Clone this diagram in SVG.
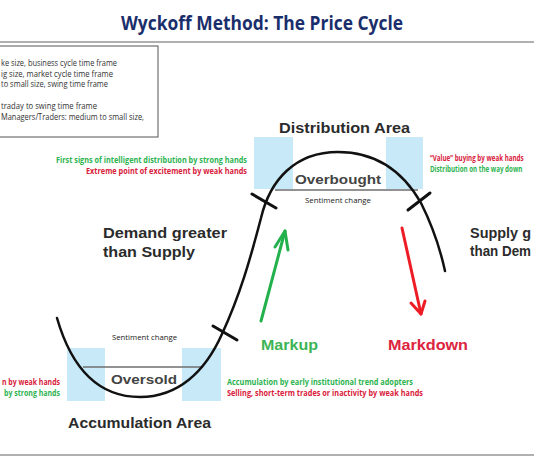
<svg xmlns="http://www.w3.org/2000/svg" width="534" height="462" viewBox="0 0 534 462">
<defs>
<style>
.title{font-family:"Open Sans","Liberation Sans",sans-serif;font-weight:bold;font-size:19px;fill:#1a2e6c}
.leg{font-family:"Open Sans","Liberation Sans",sans-serif;font-size:8.5px;fill:#333}
.big{font-family:"Liberation Sans",Arial,sans-serif;font-weight:bold;font-size:14px;fill:#2b2b2b}
.mid{font-family:"Liberation Sans",Arial,sans-serif;font-weight:bold;font-size:13.5px;fill:#444}
.sm{font-family:"Open Sans","Liberation Sans",sans-serif;font-size:7.5px;fill:#222}
.g{font-family:"Open Sans","Liberation Sans",sans-serif;font-weight:bold;font-size:8px;fill:#2db34f}
.r{font-family:"Open Sans","Liberation Sans",sans-serif;font-weight:bold;font-size:8px;fill:#d8203b}
.mg{font-family:"Liberation Sans",Arial,sans-serif;font-weight:bold;font-size:15px;fill:#3cb454}
.mr{font-family:"Liberation Sans",Arial,sans-serif;font-weight:bold;font-size:15px;fill:#dc2440}
.zone{fill:#c8e9f7}
.base{stroke:#6e6e6e;stroke-width:1.5;fill:none}
.curve{stroke:#111;stroke-width:2.5;fill:none;stroke-linecap:round}
.tick{stroke:#111;stroke-width:3;stroke-linecap:round}
.sep{stroke:#b0b0b0;stroke-width:2}
</style>
</defs>
<rect x="0" y="0" width="534" height="462" fill="#ffffff"/>
<g id="title"><text class="title" x="262" y="30" text-anchor="middle" textLength="282" lengthAdjust="spacingAndGlyphs">Wyckoff Method: The Price Cycle</text></g>
<line class="sep" x1="0" y1="42" x2="534" y2="42"/>
<line class="sep" x1="0" y1="455" x2="534" y2="455"/>
<g id="legend">
<rect x="-2" y="46" width="160" height="91" fill="#fff" stroke="#555" stroke-width="1"/>
<text class="leg" x="1" y="66" textLength="116" lengthAdjust="spacingAndGlyphs">ke size, business cycle time frame</text>
<text class="leg" x="1" y="76.5" textLength="112" lengthAdjust="spacingAndGlyphs">ig size, market cycle time frame</text>
<text class="leg" x="1" y="87" textLength="107" lengthAdjust="spacingAndGlyphs">to small size, swing time frame</text>
<text class="leg" x="1" y="108.5" textLength="96" lengthAdjust="spacingAndGlyphs">traday to swing time frame</text>
<text class="leg" x="1" y="119.5" textLength="143" lengthAdjust="spacingAndGlyphs">Managers/Traders: medium to small size,</text>
</g>
<g id="zones">
<rect class="zone" x="254" y="137" width="39" height="52"/>
<rect class="zone" x="386" y="137" width="37" height="52"/>
<rect class="zone" x="67" y="348" width="38" height="53"/>
<rect class="zone" x="182" y="348" width="39" height="53"/>
</g>
<g id="connectors">
<line class="base" x1="275" y1="190" x2="418" y2="190"/>
<line class="base" x1="83" y1="367" x2="203" y2="367"/>
<path class="curve" d="M57,318 C72,370 100,397 140,397 C178,397 205,372 222,334 C240,295 250,260 261,218 C270,180 295,152 338,152 C380,152 405,175 421,203 C432,225 440,248 445,271"/>
<line class="tick" x1="252" y1="194" x2="276" y2="208"/>
<line class="tick" x1="408" y1="210" x2="430" y2="193"/>
<line class="tick" x1="213" y1="326" x2="237" y2="340"/>
<g stroke="#22b14c" stroke-width="3" fill="none" stroke-linecap="round" stroke-linejoin="round">
<line x1="261" y1="321" x2="285" y2="231"/>
<polyline points="275,247 285,231 288,250"/>
</g>
<g stroke="#ee1c24" stroke-width="3" fill="none" stroke-linecap="round" stroke-linejoin="round">
<line x1="402" y1="228" x2="421" y2="314"/>
<polyline points="411,303 421,314 425,301"/>
</g>
</g>
<g id="distribution">
<text class="big" x="279" y="133" textLength="131" lengthAdjust="spacingAndGlyphs">Distribution Area</text>
<text class="mid" x="295" y="184" textLength="86" lengthAdjust="spacingAndGlyphs">Overbought</text>
<text class="sm" x="305" y="203" textLength="66" lengthAdjust="spacingAndGlyphs">Sentiment change</text>
<text class="g" x="247" y="163" text-anchor="end" textLength="191" lengthAdjust="spacingAndGlyphs">First signs of intelligent distribution by strong hands</text>
<text class="r" x="247" y="173.5" text-anchor="end" textLength="161" lengthAdjust="spacingAndGlyphs">Extreme point of excitement by weak hands</text>
<text class="r" transform="translate(430,161) scale(0.78,1)" x="0" y="0">“Value” buying by weak hands</text>
<text class="g" transform="translate(430,171.5) scale(0.78,1)" x="0" y="0">Distribution on the way down</text>
</g>
<g id="demand">
<text class="big" x="103" y="238" textLength="124" lengthAdjust="spacingAndGlyphs">Demand greater</text>
<text class="big" x="103" y="257" textLength="92" lengthAdjust="spacingAndGlyphs">than Supply</text>
</g>
<g id="supply">
<text class="big" x="470" y="238" textLength="61" lengthAdjust="spacingAndGlyphs">Supply g</text>
<text class="big" x="470" y="256" textLength="61" lengthAdjust="spacingAndGlyphs">than Dem</text>
</g>
<g id="accumulation">
<text class="sm" x="112" y="340" textLength="65" lengthAdjust="spacingAndGlyphs">Sentiment change</text>
<text class="mid" x="111" y="384" textLength="66" lengthAdjust="spacingAndGlyphs">Oversold</text>
<text class="big" x="68" y="428" textLength="143" lengthAdjust="spacingAndGlyphs">Accumulation Area</text>
<text class="r" x="60" y="385" text-anchor="end" textLength="58" lengthAdjust="spacingAndGlyphs">n by weak hands</text>
<text class="g" x="60" y="396" text-anchor="end" textLength="56" lengthAdjust="spacingAndGlyphs">by strong hands</text>
<text class="g" x="227" y="385" textLength="186" lengthAdjust="spacingAndGlyphs">Accumulation by early institutional trend adopters</text>
<text class="r" x="227" y="396" textLength="196" lengthAdjust="spacingAndGlyphs">Selling, short-term trades or inactivity by weak hands</text>
</g>
<g id="markup"><text class="mg" x="261" y="350" textLength="57" lengthAdjust="spacingAndGlyphs">Markup</text></g>
<g id="markdown"><text class="mr" x="388" y="350" textLength="80" lengthAdjust="spacingAndGlyphs">Markdown</text></g>
</svg>
